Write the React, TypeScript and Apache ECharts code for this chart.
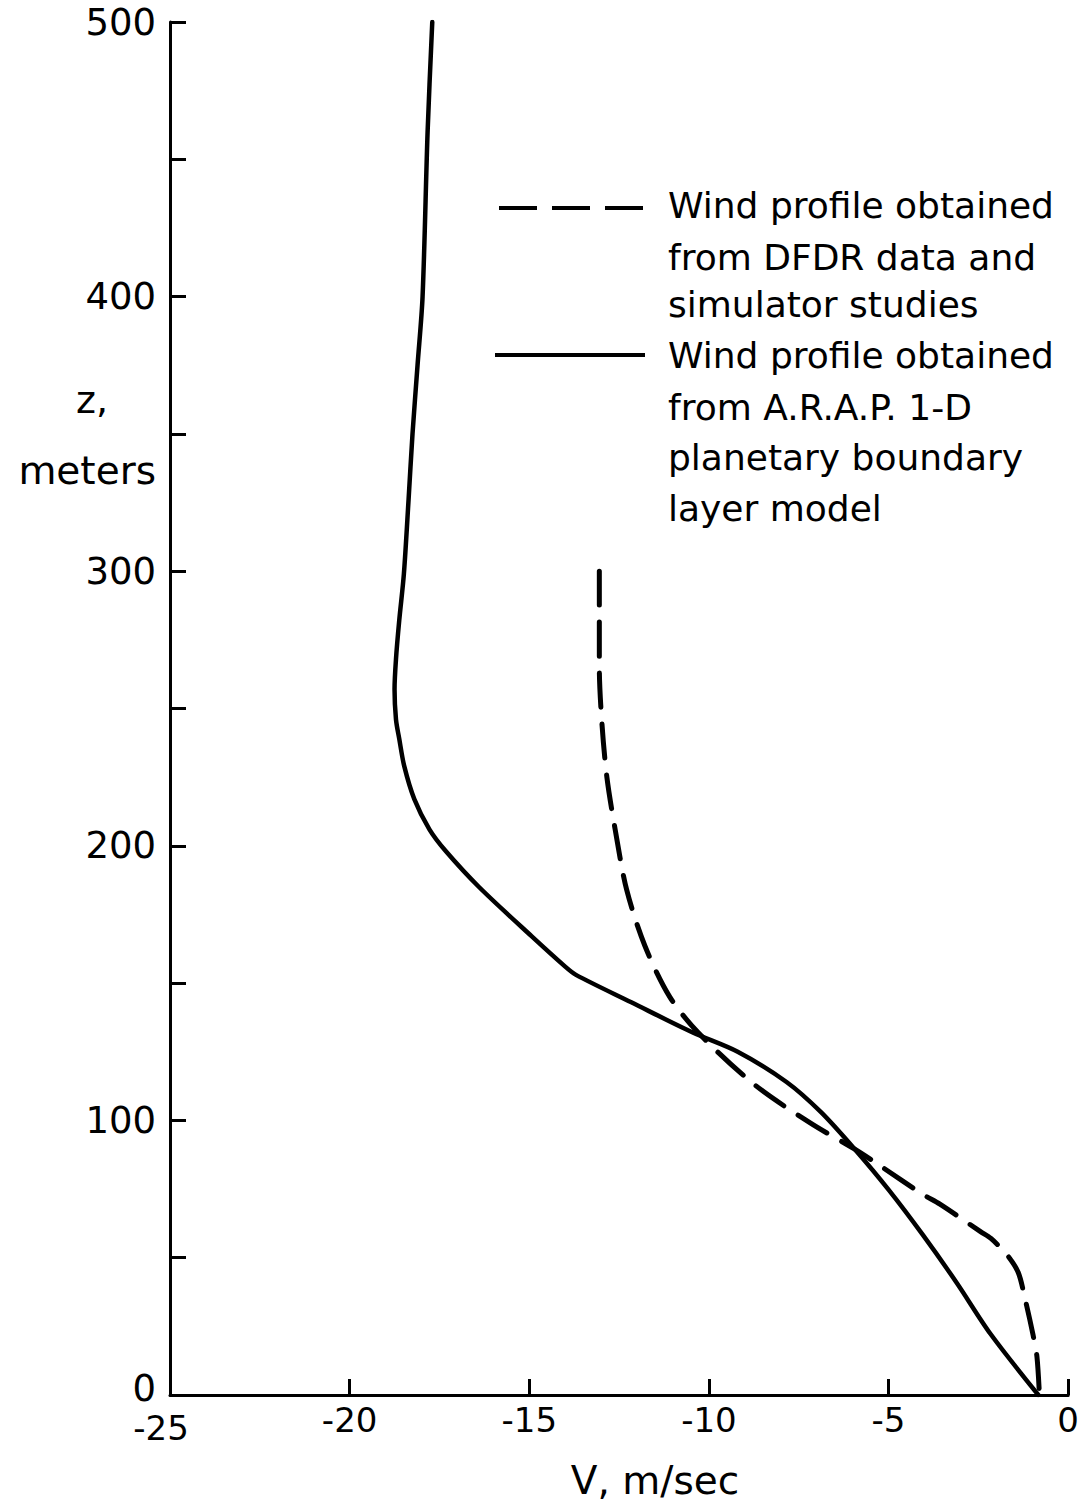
import React, { useEffect, useRef } from "react";
import * as echarts from "echarts";

// A.R.A.P. 1-D planetary boundary layer model profile (V in m/sec, z in meters)
const ARAP_V = [
  -17.7, -17.83, -17.97, -18.11, -18.25, -18.36, -18.49, -18.62, -18.71, -18.75,
  -18.71, -18.62, -18.48, -18.2, -17.78, -17.32, -16.4, -14.93,
  -14.0, -13.7, -12.16, -10.45, -9.2, -7.84, -6.88, -5.94, -4.99, -4.04, -3.1,
  -2.16, -0.83,
];
const ARAP_Z = [
  500, 460, 400, 375, 350, 326, 299, 282, 268, 257,
  246, 239, 229, 217, 206, 198, 185, 167,
  156, 153, 143, 132, 125, 114, 103, 89.5, 74.6, 58.2, 40.8,
  22.2, 0,
];

// Profile from DFDR data and simulator studies
const DFDR_V = [
  -13.05, -13.05, -12.98, -12.84, -12.61, -12.29, -11.78, -11.09, -10.3, -8.73,
  -7.17, -5.94, -5.18, -4.04, -3.57, -2.44, -2.15, -1.7, -1.39, -1.2, -0.98,
  -0.87, -0.8,
];
const DFDR_Z = [
  300, 265, 245, 225, 206, 184, 163.5, 145, 132, 113,
  99, 89.5, 83, 73, 69.5, 59.5, 57, 51, 44.6, 35, 22,
  14, 0,
];

const X_TICKS = [-25, -20, -15, -10, -5, 0];
const Z_LABELS = [0, 100, 200, 300, 400, 500];

const LEGEND_DFDR = ["Wind profile obtained", "from DFDR data and", "simulator studies"];
const LEGEND_ARAP = [
  "Wind profile obtained",
  "from A.R.A.P. 1-D",
  "planetary boundary",
  "layer model",
];

const FONT = "'DejaVu Sans', 'Liberation Sans', sans-serif";

function pairs(xs: number[], ys: number[]) {
  return xs.map((x, i) => [x, ys[i]]);
}

export default function App() {
  const ref = useRef<HTMLDivElement>(null);

  useEffect(() => {
    if (!ref.current) return;
    const chart = echarts.init(ref.current, null, { renderer: "svg" });

    const legendLines = [
      ...LEGEND_DFDR.map((t, i) => ({ t, y: [205, 257, 304][i] })),
      ...LEGEND_ARAP.map((t, i) => ({ t, y: [355, 407, 457, 508][i] })),
    ];

    chart.setOption({
      animation: false,
      backgroundColor: "#ffffff",
      grid: { left: 170, right: 10, top: 22, bottom: 107, containLabel: false },
      xAxis: {
        type: "value",
        min: X_TICKS[0],
        max: X_TICKS[X_TICKS.length - 1],
        interval: 5,
        axisLine: { onZero: false, lineStyle: { color: "#000", width: 3 } },
        axisTick: { inside: true, length: 16, lineStyle: { color: "#000", width: 3 } },
        axisLabel: {
          color: "#000",
          fontSize: 34,
          fontFamily: FONT,
          margin: 8,
          formatter: (v: number) => (v === X_TICKS[0] ? "{first|" + v + "}" : String(v)),
          rich: {
            first: { fontSize: 34, fontFamily: FONT, color: "#000", padding: [8, 18, 0, 0] },
          },
        },
        splitLine: { show: false },
      },
      yAxis: {
        type: "value",
        min: 0,
        max: 500,
        interval: 50,
        axisLine: { show: true, onZero: false, lineStyle: { color: "#000", width: 3 } },
        axisTick: { show: true, inside: true, length: 16, lineStyle: { color: "#000", width: 3 } },
        axisLabel: {
          color: "#000",
          fontSize: 37,
          fontFamily: FONT,
          margin: 14,
          formatter: (v: number) =>
            v === 0 ? "{low|0}" : Z_LABELS.includes(v) ? String(v) : "",
          rich: {
            low: { fontSize: 37, fontFamily: FONT, color: "#000", padding: [0, 0, 14, 0] },
          },
        },
        splitLine: { show: false },
      },
      series: [
        {
          name: "A.R.A.P.",
          type: "line",
          data: pairs(ARAP_V, ARAP_Z),
          showSymbol: false,
          smooth: 0.3,
          lineStyle: { color: "#000", width: 4.5, cap: "round", join: "round" },
        },
        {
          name: "DFDR",
          type: "line",
          data: pairs(DFDR_V, DFDR_Z),
          showSymbol: false,
          smooth: 0.3,
          lineStyle: { color: "#000", width: 5, type: [34, 17], cap: "round", join: "round" },
        },
      ],
      graphic: [
        // axis titles
        {
          type: "text",
          x: 92,
          y: 400,
          style: {
            text: "z,",
            fontSize: 38,
            fontFamily: FONT,
            fill: "#000",
            align: "center",
            verticalAlign: "middle",
          },
        },
        {
          type: "text",
          x: 156,
          y: 470,
          style: {
            text: "meters",
            fontSize: 39,
            fontFamily: FONT,
            fill: "#000",
            align: "right",
            verticalAlign: "middle",
          },
        },
        {
          type: "text",
          x: 655,
          y: 1480,
          style: {
            text: "V, m/sec",
            fontSize: 39,
            fontFamily: FONT,
            fill: "#000",
            align: "center",
            verticalAlign: "middle",
          },
        },
        // legend keys
        {
          type: "line",
          shape: { x1: 499, y1: 208, x2: 643, y2: 208 },
          style: { stroke: "#000", lineWidth: 4, lineDash: [38, 15] },
        },
        {
          type: "line",
          shape: { x1: 495, y1: 355, x2: 645, y2: 355 },
          style: { stroke: "#000", lineWidth: 4 },
        },
        ...legendLines.map((l) => ({
          type: "text",
          x: 668,
          y: l.y,
          style: {
            text: l.t,
            fontSize: 36,
            fontFamily: FONT,
            fill: "#000",
            align: "left",
            verticalAlign: "middle",
          },
        })),
      ],
    });

    return () => chart.dispose();
  }, []);

  return (
    <div
      ref={ref}
      style={{ position: "fixed", left: 0, top: 0, width: 1082, height: 1502, background: "#fff" }}
    />
  );
}
